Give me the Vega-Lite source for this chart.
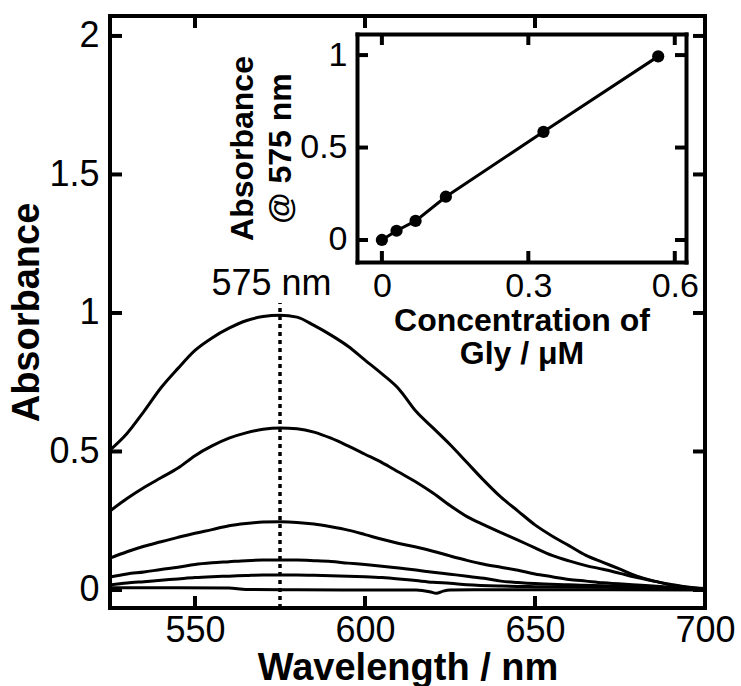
{
  "$schema": "https://vega.github.io/schema/vega-lite/v6.json",
  "autosize": {"type": "none"},
  "padding": {"left": 110, "top": 16, "right": 36, "bottom": 78},
  "width": 595,
  "height": 592,
  "background": "white",
  "datasets": {
    "spectra": [
      {"s":"A","wl":525,"abs":0.505},{"s":"A","wl":530,"abs":0.565},{"s":"A","wl":535,"abs":0.645},{"s":"A","wl":540,"abs":0.73},{"s":"A","wl":545,"abs":0.80},{"s":"A","wl":550,"abs":0.865},{"s":"A","wl":555,"abs":0.91},{"s":"A","wl":560,"abs":0.945},{"s":"A","wl":565,"abs":0.972},{"s":"A","wl":570,"abs":0.987},{"s":"A","wl":575,"abs":0.992},{"s":"A","wl":580,"abs":0.985},{"s":"A","wl":585,"abs":0.955},{"s":"A","wl":590,"abs":0.92},{"s":"A","wl":595,"abs":0.88},{"s":"A","wl":600,"abs":0.83},{"s":"A","wl":605,"abs":0.78},{"s":"A","wl":610,"abs":0.725},{"s":"A","wl":615,"abs":0.645},{"s":"A","wl":620,"abs":0.585},{"s":"A","wl":625,"abs":0.525},{"s":"A","wl":630,"abs":0.46},{"s":"A","wl":635,"abs":0.395},{"s":"A","wl":640,"abs":0.335},{"s":"A","wl":645,"abs":0.285},{"s":"A","wl":650,"abs":0.235},{"s":"A","wl":655,"abs":0.195},{"s":"A","wl":660,"abs":0.16},{"s":"A","wl":665,"abs":0.125},{"s":"A","wl":670,"abs":0.10},{"s":"A","wl":675,"abs":0.075},{"s":"A","wl":680,"abs":0.05},{"s":"A","wl":685,"abs":0.032},{"s":"A","wl":690,"abs":0.02},{"s":"A","wl":695,"abs":0.01},{"s":"A","wl":700,"abs":0.005},
      {"s":"B","wl":525,"abs":0.285},{"s":"B","wl":530,"abs":0.33},{"s":"B","wl":535,"abs":0.37},{"s":"B","wl":540,"abs":0.405},{"s":"B","wl":545,"abs":0.44},{"s":"B","wl":550,"abs":0.485},{"s":"B","wl":555,"abs":0.52},{"s":"B","wl":560,"abs":0.548},{"s":"B","wl":565,"abs":0.567},{"s":"B","wl":570,"abs":0.58},{"s":"B","wl":575,"abs":0.585},{"s":"B","wl":580,"abs":0.582},{"s":"B","wl":585,"abs":0.57},{"s":"B","wl":590,"abs":0.548},{"s":"B","wl":595,"abs":0.52},{"s":"B","wl":600,"abs":0.49},{"s":"B","wl":605,"abs":0.46},{"s":"B","wl":610,"abs":0.425},{"s":"B","wl":615,"abs":0.39},{"s":"B","wl":620,"abs":0.35},{"s":"B","wl":625,"abs":0.305},{"s":"B","wl":630,"abs":0.265},{"s":"B","wl":635,"abs":0.235},{"s":"B","wl":640,"abs":0.207},{"s":"B","wl":645,"abs":0.18},{"s":"B","wl":650,"abs":0.152},{"s":"B","wl":655,"abs":0.125},{"s":"B","wl":660,"abs":0.105},{"s":"B","wl":665,"abs":0.088},{"s":"B","wl":670,"abs":0.075},{"s":"B","wl":675,"abs":0.06},{"s":"B","wl":680,"abs":0.045},{"s":"B","wl":685,"abs":0.032},{"s":"B","wl":690,"abs":0.018},{"s":"B","wl":695,"abs":0.01},{"s":"B","wl":700,"abs":0.004},
      {"s":"C","wl":525,"abs":0.115},{"s":"C","wl":530,"abs":0.138},{"s":"C","wl":535,"abs":0.158},{"s":"C","wl":540,"abs":0.174},{"s":"C","wl":545,"abs":0.19},{"s":"C","wl":550,"abs":0.205},{"s":"C","wl":555,"abs":0.218},{"s":"C","wl":560,"abs":0.232},{"s":"C","wl":565,"abs":0.24},{"s":"C","wl":570,"abs":0.245},{"s":"C","wl":575,"abs":0.246},{"s":"C","wl":580,"abs":0.244},{"s":"C","wl":585,"abs":0.238},{"s":"C","wl":590,"abs":0.228},{"s":"C","wl":595,"abs":0.216},{"s":"C","wl":600,"abs":0.2},{"s":"C","wl":605,"abs":0.183},{"s":"C","wl":610,"abs":0.168},{"s":"C","wl":615,"abs":0.155},{"s":"C","wl":620,"abs":0.14},{"s":"C","wl":625,"abs":0.123},{"s":"C","wl":630,"abs":0.107},{"s":"C","wl":635,"abs":0.093},{"s":"C","wl":640,"abs":0.082},{"s":"C","wl":645,"abs":0.071},{"s":"C","wl":650,"abs":0.058},{"s":"C","wl":655,"abs":0.048},{"s":"C","wl":660,"abs":0.038},{"s":"C","wl":665,"abs":0.032},{"s":"C","wl":670,"abs":0.026},{"s":"C","wl":680,"abs":0.018},{"s":"C","wl":690,"abs":0.01},{"s":"C","wl":700,"abs":0.003},
      {"s":"D","wl":525,"abs":0.047},{"s":"D","wl":530,"abs":0.058},{"s":"D","wl":535,"abs":0.065},{"s":"D","wl":540,"abs":0.074},{"s":"D","wl":545,"abs":0.082},{"s":"D","wl":550,"abs":0.092},{"s":"D","wl":555,"abs":0.098},{"s":"D","wl":560,"abs":0.102},{"s":"D","wl":565,"abs":0.106},{"s":"D","wl":570,"abs":0.108},{"s":"D","wl":575,"abs":0.108},{"s":"D","wl":580,"abs":0.108},{"s":"D","wl":585,"abs":0.106},{"s":"D","wl":590,"abs":0.103},{"s":"D","wl":595,"abs":0.097},{"s":"D","wl":600,"abs":0.092},{"s":"D","wl":605,"abs":0.086},{"s":"D","wl":610,"abs":0.079},{"s":"D","wl":615,"abs":0.072},{"s":"D","wl":620,"abs":0.064},{"s":"D","wl":625,"abs":0.057},{"s":"D","wl":630,"abs":0.05},{"s":"D","wl":635,"abs":0.042},{"s":"D","wl":640,"abs":0.032},{"s":"D","wl":645,"abs":0.027},{"s":"D","wl":650,"abs":0.023},{"s":"D","wl":660,"abs":0.019},{"s":"D","wl":670,"abs":0.015},{"s":"D","wl":680,"abs":0.012},{"s":"D","wl":690,"abs":0.007},{"s":"D","wl":700,"abs":0.003},
      {"s":"E","wl":525,"abs":0.018},{"s":"E","wl":530,"abs":0.025},{"s":"E","wl":535,"abs":0.03},{"s":"E","wl":540,"abs":0.035},{"s":"E","wl":545,"abs":0.04},{"s":"E","wl":550,"abs":0.045},{"s":"E","wl":555,"abs":0.048},{"s":"E","wl":560,"abs":0.05},{"s":"E","wl":565,"abs":0.052},{"s":"E","wl":570,"abs":0.054},{"s":"E","wl":575,"abs":0.054},{"s":"E","wl":580,"abs":0.054},{"s":"E","wl":585,"abs":0.053},{"s":"E","wl":590,"abs":0.051},{"s":"E","wl":595,"abs":0.05},{"s":"E","wl":600,"abs":0.048},{"s":"E","wl":605,"abs":0.045},{"s":"E","wl":610,"abs":0.04},{"s":"E","wl":615,"abs":0.034},{"s":"E","wl":620,"abs":0.028},{"s":"E","wl":625,"abs":0.024},{"s":"E","wl":630,"abs":0.019},{"s":"E","wl":640,"abs":0.014},{"s":"E","wl":650,"abs":0.012},{"s":"E","wl":660,"abs":0.011},{"s":"E","wl":670,"abs":0.01},{"s":"E","wl":680,"abs":0.008},{"s":"E","wl":690,"abs":0.005},{"s":"E","wl":700,"abs":0.003},
      {"s":"F","wl":525,"abs":0.008},{"s":"F","wl":545,"abs":0.008},{"s":"F","wl":560,"abs":0.007},{"s":"F","wl":565,"abs":0.002},{"s":"F","wl":580,"abs":0.001},{"s":"F","wl":600,"abs":0.0},{"s":"F","wl":615,"abs":0.0},{"s":"F","wl":619,"abs":-0.006},{"s":"F","wl":621,"abs":-0.012},{"s":"F","wl":623,"abs":-0.004},{"s":"F","wl":625,"abs":0.0},{"s":"F","wl":650,"abs":0.001},{"s":"F","wl":700,"abs":0.0}
    ],
    "inset": [
      {"conc":0.0,"abs":0.0},{"conc":0.030,"abs":0.05},{"conc":0.069,"abs":0.103},{"conc":0.131,"abs":0.234},{"conc":0.331,"abs":0.585},{"conc":0.566,"abs":0.993}
    ],
    "mainXTicks": [{"v": 550}, {"v": 600}, {"v": 650}],
    "mainYTicks": [{"v": 0}, {"v": 0.5}, {"v": 1}, {"v": 1.5}, {"v": 2}],
    "insetXTicks": [{"v": 0}, {"v": 0.3}, {"v": 0.6}],
    "insetYTicks": [{"v": 0}, {"v": 0.5}, {"v": 1}]
  },
  "layer": [
    {
      "data": {"name": "spectra"},
      "mark": {"type": "line", "color": "black", "strokeWidth": 3, "interpolate": "monotone"},
      "encoding": {
        "x": {"field": "wl", "type": "quantitative",
              "scale": {"domain": [525, 700], "nice": false, "zero": false},
              "axis": {"orient": "bottom", "domain": false, "ticks": false, "values": [550, 600, 650, 700], "format": "d",
                       "title": "Wavelength / nm", "labelPadding": 5, "titlePadding": 1}},
        "y": {"field": "abs", "type": "quantitative",
              "scale": {"domain": [-0.065, 2.072], "nice": false, "zero": false},
              "axis": {"orient": "left", "domain": false, "ticks": false, "values": [0, 0.5, 1, 1.5, 2], "format": "~g",
                       "title": "Absorbance", "labelPadding": 11, "titlePadding": 2}},
        "detail": {"field": "s"}
      }
    },
    {
      "data": {"values": [{"wl": 575, "lo": -0.065, "hi": 1.036}]},
      "mark": {"type": "rule", "color": "black", "strokeWidth": 3.5, "strokeDash": [4, 4]},
      "encoding": {
        "x": {"field": "wl", "type": "quantitative",
              "scale": {"domain": [525, 700], "nice": false, "zero": false}, "axis": null},
        "y": {"field": "lo", "type": "quantitative",
              "scale": {"domain": [-0.065, 2.072], "nice": false, "zero": false}, "axis": null},
        "y2": {"field": "hi"}
      }
    },
    {
      "data": {"values": [{"wl": 572.5, "abs": 1.065, "label": "575 nm"}]},
      "mark": {"type": "text", "color": "black", "font": "Liberation Sans", "fontSize": 36, "align": "center", "baseline": "alphabetic"},
      "encoding": {
        "x": {"field": "wl", "type": "quantitative",
              "scale": {"domain": [525, 700], "nice": false, "zero": false}, "axis": null},
        "y": {"field": "abs", "type": "quantitative",
              "scale": {"domain": [-0.065, 2.072], "nice": false, "zero": false}, "axis": null},
        "text": {"field": "label"}
      }
    },
    {
      "data": {"name": "inset"},
      "mark": {"type": "line", "color": "black", "strokeWidth": 3},
      "encoding": {
        "x": {"field": "conc", "type": "quantitative",
              "scale": {"domain": [-0.051, 0.623], "range": [247, 576], "nice": false, "zero": false},
              "axis": {"orient": "bottom", "offset": -346, "values": [0, 0.3, 0.6], "format": "~g",
                       "domainColor": "black", "domainWidth": 4, "domainCap": "square",
                       "ticks": false, "labelPadding": 7,
                       "title": ["Concentration of", "Gly / μM"],
                       "labelFontSize": 34, "titleFontSize": 32, "titleLineHeight": 33, "titlePadding": 2}},
        "y": {"field": "abs", "type": "quantitative",
              "scale": {"domain": [-0.119, 1.114], "range": [246, 18], "nice": false, "zero": false},
              "axis": {"orient": "left", "offset": -247, "values": [0, 0.5, 1], "format": "~g",
                       "domainColor": "black", "domainWidth": 4, "domainCap": "square",
                       "ticks": false, "labelPadding": 10,
                       "title": ["Absorbance", "@ 575 nm"],
                       "labelFontSize": 34, "titleFontSize": 32, "titleLineHeight": 38, "titlePadding": 2}}
      }
    },
    {
      "data": {"name": "inset"},
      "mark": {"type": "circle", "color": "black", "opacity": 1, "size": 150},
      "encoding": {
        "x": {"field": "conc", "type": "quantitative",
              "scale": {"domain": [-0.051, 0.623], "range": [247, 576], "nice": false, "zero": false},
              "axis": {"orient": "top", "offset": -18, "values": [0, 0.3, 0.6], "ticks": false, "labels": false, "title": null,
                       "domainColor": "black", "domainWidth": 4, "domainCap": "square"}},
        "y": {"field": "abs", "type": "quantitative",
              "scale": {"domain": [-0.119, 1.114], "range": [246, 18], "nice": false, "zero": false},
              "axis": {"orient": "right", "offset": -19, "values": [0, 0.5, 1], "ticks": false, "labels": false, "title": null,
                       "domainColor": "black", "domainWidth": 4, "domainCap": "square"}}
      }
    },
    {
      "data": {"name": "mainXTicks"},
      "mark": {"type": "rule", "color": "#000000", "strokeWidth": 4},
      "encoding": {
        "x": {"field": "v", "type": "quantitative", "scale": {"domain": [525, 700], "nice": false, "zero": false}, "axis": null},
        "y": {"datum": -0.065, "type": "quantitative", "scale": {"domain": [-0.065, 2.072], "nice": false, "zero": false}, "axis": null},
        "y2": {"datum": -0.0217}
      }
    },
    {
      "data": {"name": "mainXTicks"},
      "mark": {"type": "rule", "color": "#000000", "strokeWidth": 4},
      "encoding": {
        "x": {"field": "v", "type": "quantitative", "scale": {"domain": [525, 700], "nice": false, "zero": false}, "axis": null},
        "y": {"datum": 2.072, "type": "quantitative", "scale": {"domain": [-0.065, 2.072], "nice": false, "zero": false}, "axis": null},
        "y2": {"datum": 2.0287}
      }
    },
    {
      "data": {"name": "mainYTicks"},
      "mark": {"type": "rule", "color": "#000000", "strokeWidth": 4},
      "encoding": {
        "y": {"field": "v", "type": "quantitative", "scale": {"domain": [-0.065, 2.072], "nice": false, "zero": false}, "axis": null},
        "x": {"datum": 525, "type": "quantitative", "scale": {"domain": [525, 700], "nice": false, "zero": false}, "axis": null},
        "x2": {"datum": 528.53}
      }
    },
    {
      "data": {"name": "mainYTicks"},
      "mark": {"type": "rule", "color": "#000000", "strokeWidth": 4},
      "encoding": {
        "y": {"field": "v", "type": "quantitative", "scale": {"domain": [-0.065, 2.072], "nice": false, "zero": false}, "axis": null},
        "x": {"datum": 700, "type": "quantitative", "scale": {"domain": [525, 700], "nice": false, "zero": false}, "axis": null},
        "x2": {"datum": 696.47}
      }
    },
    {
      "data": {"name": "insetXTicks"},
      "mark": {"type": "rule", "color": "#000000", "strokeWidth": 4},
      "encoding": {
        "x": {"field": "v", "type": "quantitative", "scale": {"domain": [-0.051, 0.623], "range": [247, 576], "nice": false, "zero": false}, "axis": null},
        "y": {"datum": -0.119, "type": "quantitative", "scale": {"domain": [-0.119, 1.114], "range": [246, 18], "nice": false, "zero": false}, "axis": null},
        "y2": {"datum": -0.0595}
      }
    },
    {
      "data": {"name": "insetXTicks"},
      "mark": {"type": "rule", "color": "#000000", "strokeWidth": 4},
      "encoding": {
        "x": {"field": "v", "type": "quantitative", "scale": {"domain": [-0.051, 0.623], "range": [247, 576], "nice": false, "zero": false}, "axis": null},
        "y": {"datum": 1.114, "type": "quantitative", "scale": {"domain": [-0.119, 1.114], "range": [246, 18], "nice": false, "zero": false}, "axis": null},
        "y2": {"datum": 1.0545}
      }
    },
    {
      "data": {"name": "insetYTicks"},
      "mark": {"type": "rule", "color": "#000000", "strokeWidth": 4},
      "encoding": {
        "y": {"field": "v", "type": "quantitative", "scale": {"domain": [-0.119, 1.114], "range": [246, 18], "nice": false, "zero": false}, "axis": null},
        "x": {"datum": -0.051, "type": "quantitative", "scale": {"domain": [-0.051, 0.623], "range": [247, 576], "nice": false, "zero": false}, "axis": null},
        "x2": {"datum": -0.0285}
      }
    },
    {
      "data": {"name": "insetYTicks"},
      "mark": {"type": "rule", "color": "#000000", "strokeWidth": 4},
      "encoding": {
        "y": {"field": "v", "type": "quantitative", "scale": {"domain": [-0.119, 1.114], "range": [246, 18], "nice": false, "zero": false}, "axis": null},
        "x": {"datum": 0.623, "type": "quantitative", "scale": {"domain": [-0.051, 0.623], "range": [247, 576], "nice": false, "zero": false}, "axis": null},
        "x2": {"datum": 0.6005}
      }
    }
  ],
  "resolve": {
    "scale": {"x": "independent", "y": "independent"},
    "axis": {"x": "independent", "y": "independent"}
  },
  "config": {
    "view": {"stroke": "black", "strokeWidth": 4},
    "axis": {
      "grid": false,
      "labelFont": "Liberation Sans", "labelFontSize": 36, "labelColor": "black", "labelFlush": false, "labelOverlap": false,
      "titleFont": "Liberation Sans", "titleFontSize": 38, "titleFontWeight": "bold", "titleColor": "black"
    }
  }
}
